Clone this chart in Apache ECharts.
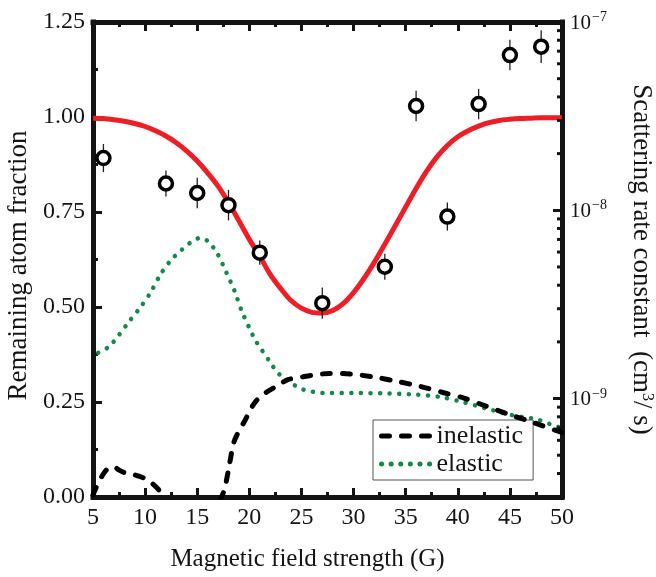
<!DOCTYPE html>
<html><head><meta charset="utf-8">
<script src="https://cdn.jsdelivr.net/npm/echarts@6/dist/echarts.min.js"></script>
<style>html,body{margin:0;padding:0;background:#fff}#c{width:656px;height:577px}</style>
</head><body><div id="c"></div>
<script>
// ---- data ----
const fieldG = [6, 12, 15, 18, 21, 27, 33, 36, 39, 42, 45, 48];
const fraction = [0.892, 0.825, 0.800, 0.768, 0.643, 0.510, 0.606, 1.029, 0.738, 1.034, 1.163, 1.185];
const fractionErr = [0.037, 0.034, 0.040, 0.040, 0.032, 0.041, 0.034, 0.040, 0.037, 0.040, 0.040, 0.043];

const fitField = [5,6,7,8,9,10,11,12,13,14,15,16,17,18,19,20,21,22,23,24,25,26,27,28,29,30,31,32,33,34,35,36,37,38,39,40,41,42,43,44,45,46,47,48,49,50];
const fitFraction = [0.997,0.996,0.993,0.989,0.983,0.975,0.964,0.950,0.932,0.910,0.884,0.853,0.818,0.775,0.727,0.678,0.634,0.586,0.549,0.517,0.497,0.486,0.484,0.491,0.509,0.538,0.575,0.618,0.665,0.714,0.763,0.812,0.857,0.895,0.925,0.948,0.964,0.976,0.985,0.991,0.994,0.996,0.997,0.998,0.998,0.998];

const elasticField = [5.5,6.5,7.5,8.5,9.5,10.5,11.5,12.5,13.5,14.5,15.3,16,16.9,17.8,18.6,19.3,20,20.6,21.2,22,22.5,23.3,24.3,25.1,26,27,30,33,36,38.3,40.1,41.8,43.3,44.7,46.2,47.6,49.3,50];
const elasticRate = [1.75e-9,1.88e-9,2.18e-9,2.58e-9,3.03e-9,3.64e-9,4.59e-9,5.45e-9,6.16e-9,6.83e-9,7.13e-9,6.87e-9,5.93e-9,4.67e-9,3.70e-9,2.89e-9,2.37e-9,2.03e-9,1.81e-9,1.56e-9,1.42e-9,1.28e-9,1.18e-9,1.12e-9,1.09e-9,1.07e-9,1.07e-9,1.065e-9,1.05e-9,1.02e-9,9.7e-10,9.16e-10,8.69e-10,8.28e-10,7.98e-10,7.76e-10,7.15e-10,7.0e-10];

const inelasticField = [5,5.5,6,6.5,7,7.5,8,9,10,10.5,11,11.5,12,14,17.2,17.6,18,18.5,19,19.5,20,20.6,21.5,22.8,23.7,25,26,27.7,29.7,32,34,36.4,38.5,40.6,42.7,44.8,47.2,49.4,50];
const inelasticRate = [3.08e-10,3.56e-10,3.98e-10,4.28e-10,4.33e-10,4.17e-10,4.05e-10,3.93e-10,3.76e-10,3.61e-10,3.41e-10,3.19e-10,2.96e-10,null,2.89e-10,3.27e-10,4.18e-10,5.81e-10,6.73e-10,7.51e-10,8.49e-10,9.64e-10,1.067e-9,1.18e-9,1.26e-9,1.30e-9,1.33e-9,1.36e-9,1.35e-9,1.30e-9,1.24e-9,1.16e-9,1.08e-9,1.005e-9,9.12e-10,8.28e-10,7.47e-10,6.77e-10,6.6e-10];

const rightMinorTicks = [4e-10,5e-10,6e-10,7e-10,8e-10,9e-10,2e-9,3e-9,4e-9,5e-9,6e-9,7e-9,8e-9,9e-9,2e-8,3e-8,4e-8,5e-8,6e-8,7e-8,8e-8,9e-8];

const xRange = [5, 50, 5];
const leftRange = [0, 1.25, 0.25];
const rightRange = [3e-10, 1e-7];

// ---- chart ----
const FONT = 'Liberation Serif';
const INK = '#141414';
const chart = echarts.init(document.getElementById('c'), null, {renderer: 'canvas'});

const axisLine = {show: true, onZero: false, lineStyle: {color: INK, width: 5, cap: 'square'}};
const tick = {show: true, inside: true, length: 9, lineStyle: {color: INK, width: 3}};
const minor = {show: true, splitNumber: 2, length: 5, lineStyle: {color: INK, width: 3}};

const option = {
  animation: false,
  backgroundColor: '#fff',
  grid: {left: 93, right: 94, top: 22, bottom: 80, containLabel: false, outerBoundsMode: 'none'},
  legend: {
    orient: 'vertical', left: 373, top: 420,
    backgroundColor: '#fff', borderColor: '#555', borderWidth: 1,
    padding: [3, 10, 3, 6], itemGap: 2, itemWidth: 50, itemHeight: 14,
    itemStyle: {opacity: 0},
    lineStyle: {width: 5, cap: 'round'},
    textStyle: {fontFamily: FONT, fontSize: 26, color: INK, lineHeight: 26},
    data: ['inelastic', 'elastic']
  },
  xAxis: [
    {type: 'value', min: xRange[0], max: xRange[1], interval: xRange[2], position: 'bottom',
     axisLine: axisLine, axisTick: tick, minorTick: minor, splitLine: {show: false}, minorSplitLine: {show: false},
     axisLabel: {fontFamily: FONT, fontSize: 24, color: INK, margin: 9},
     name: 'Magnetic field strength (G)', nameLocation: 'middle', nameGap: 50,
     nameTextStyle: {fontFamily: FONT, fontSize: 25, color: INK, padding: [0, 40, 0, 0]}},
    {type: 'value', min: xRange[0], max: xRange[1], interval: xRange[2], position: 'top',
     axisLine: axisLine, axisTick: tick, minorTick: minor, splitLine: {show: false},
     axisLabel: {show: false}}
  ],
  yAxis: [
    {type: 'value', min: leftRange[0], max: leftRange[1], interval: leftRange[2], position: 'left',
     axisLine: axisLine, axisTick: tick, minorTick: minor, splitLine: {show: false},
     axisLabel: {fontFamily: FONT, fontSize: 24, color: INK, margin: 8, formatter: v => v.toFixed(2)},
     name: 'Remaining atom fraction', nameLocation: 'middle', nameRotate: 90, nameGap: 58,
     nameTextStyle: {fontFamily: FONT, fontSize: 27, color: INK, padding: [0, 12, 0, 0]}},
    {type: 'log', logBase: 10, min: rightRange[0], max: rightRange[1], position: 'right',
     axisLine: axisLine, axisTick: tick, splitLine: {show: false},
     axisLabel: {margin: 8, color: INK,
       formatter: v => {
         const e = Math.log10(v), r = Math.round(e);
         if (Math.abs(e - r) > 1e-6) return '';
         return '{b|10}{s|\u2212' + Math.abs(r) + '}';
       },
       rich: {
         b: {fontFamily: FONT, fontSize: 21, color: INK, verticalAlign: 'bottom'},
         s: {fontFamily: FONT, fontSize: 14, color: INK, verticalAlign: 'bottom', padding: [0, 0, 9, 1]}
       }},
     name: 'Scattering rate constant  (cm{s|3}/ s)', nameLocation: 'middle', nameRotate: -90, nameGap: 65,
     nameTextStyle: {fontFamily: FONT, fontSize: 27, color: INK,
       rich: {s: {fontFamily: FONT, fontSize: 16, color: INK, verticalAlign: 'bottom', padding: [0, 0, 12, 0]}}}}
  ],
  series: [
    {name: 'fit', type: 'line', xAxisIndex: 0, yAxisIndex: 0, symbol: 'none', smooth: 0.3, z: 2,
     lineStyle: {color: '#ec1f27', width: 5},
     data: fitField.map((x, i) => [x, fitFraction[i]])},
    {name: 'elastic', type: 'line', xAxisIndex: 0, yAxisIndex: 1, symbol: 'none', smooth: 0.3, z: 3,
     itemStyle: {color: '#14884a'},
     lineStyle: {color: '#14884a', width: 4.5, type: [0.1, 9.5], cap: 'round'},
     data: elasticField.map((x, i) => [x, elasticRate[i]])},
    {name: 'inelastic', type: 'line', xAxisIndex: 0, yAxisIndex: 1, symbol: 'none', smooth: 0.3, z: 4,
     connectNulls: false,
     itemStyle: {color: '#000'},
     lineStyle: {color: '#000', width: 5, type: [8, 12], cap: 'round'},
     data: inelasticField.map((x, i) => [x, inelasticRate[i]])},
    {name: 'errors', type: 'custom', xAxisIndex: 0, yAxisIndex: 0, z: 5,
     encode: {x: 0, y: [1, 2]},
     renderItem: (params, api) => {
       const p1 = api.coord([api.value(0), api.value(1)]);
       const p2 = api.coord([api.value(0), api.value(2)]);
       return {type: 'line', shape: {x1: p1[0], y1: p1[1], x2: p2[0], y2: p2[1]},
               style: {stroke: '#222', lineWidth: 1.3}};
     },
     data: fieldG.map((x, i) => [x, fraction[i] - fractionErr[i], fraction[i] + fractionErr[i]])},
    {name: 'data', type: 'scatter', xAxisIndex: 0, yAxisIndex: 0, z: 6,
     symbol: 'circle', symbolSize: 13,
     itemStyle: {color: '#fff', borderColor: '#000', borderWidth: 3.5, opacity: 1},
     data: fieldG.map((x, i) => [x, fraction[i]])},
    {name: 'rightMinor', type: 'custom', xAxisIndex: 0, yAxisIndex: 1, z: 7, clip: false,
     encode: {x: 0, y: 1},
     renderItem: (params, api) => {
       const p = api.coord([api.value(0), api.value(1)]);
       return {type: 'line', shape: {x1: p[0] - 5, y1: p[1], x2: p[0], y2: p[1]},
               style: {stroke: INK, lineWidth: 3}};
     },
     data: rightMinorTicks.map(v => [xRange[1], v])}
  ]
};
chart.setOption(option);
</script>
</body></html>
